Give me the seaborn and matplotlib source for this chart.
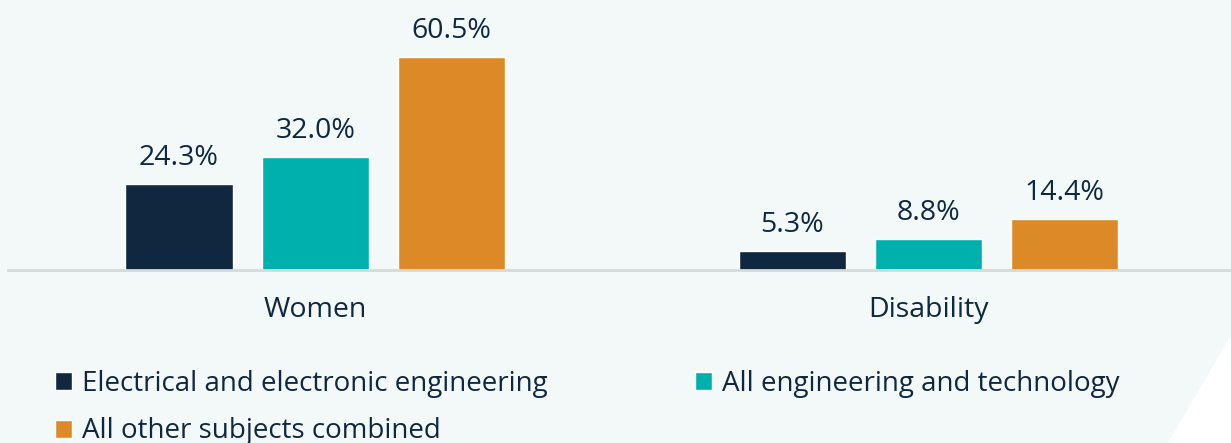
import matplotlib
matplotlib.use("Agg")
import matplotlib.pyplot as plt
import seaborn as sns
import pandas as pd
from matplotlib.patches import Polygon, Patch

groups = ["Women", "Disability"]
series = ["Electrical and electronic engineering",
          "All engineering and technology",
          "All other subjects combined"]
electrical = [24.3, 5.3]
all_eng = [32.0, 8.8]
all_other = [60.5, 14.4]
colors = ["#10283F", "#00B0AD", "#DC8A27"]

rows = []
for s, vals in zip(series, [electrical, all_eng, all_other]):
    for g, v in zip(groups, vals):
        rows.append({"group": g, "series": s, "value": v})
df = pd.DataFrame(rows)

sns.set_theme(style="white")
FONT = ["Open Sans", "DejaVu Sans"]
plt.rcParams["font.family"] = FONT
TXT = "#10283F"
BG = "#F3F9F8"

W, H = 1231, 443
fig = plt.figure(figsize=(W / 100, H / 100), dpi=100)
fig.patch.set_facecolor(BG)
# decorative white corner
fig.patches.append(Polygon([(1231 / W, 1 - 335 / H), (1.0, 0.0), (1168 / W, 0.0)],
                           closed=True, transform=fig.transFigure,
                           facecolor="white", edgecolor="none", zorder=0))

ax = fig.add_axes([8 / W, (H - 270) / H, 1 - 8 / W, 270 / H])
ax.set_facecolor("none")
sns.barplot(data=df, x="group", y="value", hue="series", order=groups,
            hue_order=series, palette=colors, width=0.666, gap=0.213,
            saturation=1, ax=ax, legend=False, errorbar=None)

ax.set_xlim(-0.501, 1.494)
ax.set_ylim(0, 270 / 3.52)
for c in ax.containers:
    ax.bar_label(c, labels=[f"{v:.1f}%" for v in c.datavalues], padding=9,
                 fontsize=20.5, color=TXT, family=FONT)

ax.set_xlabel("")
ax.set_ylabel("")
ax.set_yticks([])
ax.tick_params(axis="x", length=0, pad=19, labelsize=20.5, labelcolor=TXT)
for sp in ["top", "left", "right"]:
    ax.spines[sp].set_visible(False)
ax.spines["bottom"].set_color("#D5D9D8")
ax.spines["bottom"].set_linewidth(2)

handles = [Patch(facecolor=colors[0], label=series[0]),
           Patch(facecolor=colors[2], label=series[2]),
           Patch(facecolor=colors[1], label=series[1])]
fig.legend(handles=handles, ncol=2, loc="upper left",
           bbox_to_anchor=(55 / W, 1 - 370 / H), frameon=False,
           fontsize=20, labelcolor=TXT, handlelength=0.62, handleheight=0.62,
           handletextpad=0.36, columnspacing=5.3, labelspacing=0.7,
           borderpad=0, borderaxespad=0)

fig.savefig("out.png", dpi=100, facecolor=BG)
